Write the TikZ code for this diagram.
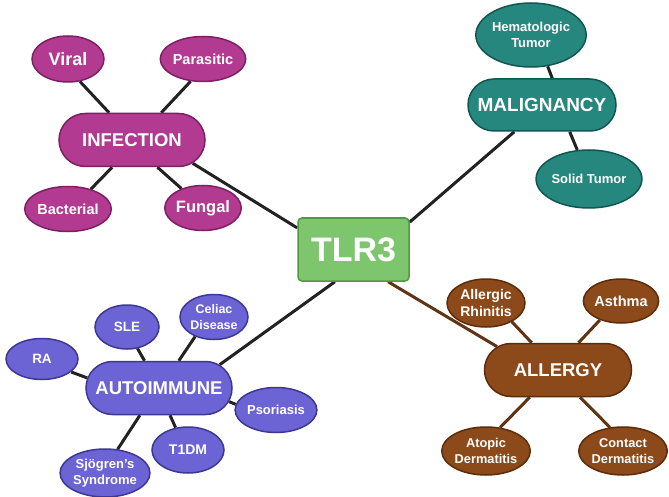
\documentclass[tikz,border=0pt]{standalone}
\usepackage{fontspec}
\setmainfont{Liberation Sans}
\usetikzlibrary{shapes.geometric,shapes.misc,backgrounds}
\definecolor{infc}{HTML}{B23B91}
\definecolor{infd}{HTML}{7D1F63}
\definecolor{malc}{HTML}{26877E}
\definecolor{mald}{HTML}{125650}
\definecolor{tlrc}{HTML}{7DC66D}
\definecolor{tlrd}{HTML}{4E9A40}
\definecolor{autc}{HTML}{6C63D4}
\definecolor{autd}{HTML}{3D3894}
\definecolor{allc}{HTML}{8C4A1B}
\definecolor{alld}{HTML}{5C2C0B}
\definecolor{linkc}{HTML}{222222}
\definecolor{brlink}{HTML}{5E3415}
\newcommand{\fs}[1]{\fontsize{#1}{#1}\selectfont}
\newcommand{\fsb}[2]{\fontsize{#1}{#2}\selectfont}
\begin{document}
\begin{tikzpicture}[x=1pt,y=-1pt,
  base/.style={text=white,font=\bfseries,align=center,inner sep=0pt,line width=1.5pt},
  leaf/.style={base,ellipse},
  hub/.style={base,rounded rectangle,minimum width=146pt,minimum height=53pt},
  infn/.style={fill=infc,draw=infd},
  maln/.style={fill=malc,draw=mald},
  autn/.style={fill=autc,draw=autd},
  alln/.style={fill=allc,draw=alld},
  link/.style={line width=3pt,draw=linkc},
  blink/.style={line width=3pt,draw=brlink}]
\useasboundingbox (0,0) rectangle (669,497);
% TLR3
\node[base,rectangle,rounded corners=4pt,fill=tlrc,draw=tlrd,minimum width=111pt,minimum height=63pt,font=\bfseries\fs{34}] (tlr) at (353.5,249.5) {TLR3};
% Infection
\node[hub,infn,font=\bfseries\fs{18.5}] (inf) at (132,140) {INFECTION};
\node[leaf,infn,minimum width=72pt,minimum height=46pt,font=\bfseries\fs{18}] (vir) at (68,59) {Viral};
\node[leaf,infn,minimum width=72pt,minimum height=45pt,font=\bfseries\fs{14.5}] (par) at (203,59) {Parasitic};
\node[leaf,infn,minimum width=72pt,minimum height=45pt,font=\bfseries\fs{14.5}] (bac) at (68,209) {Bacterial};
\node[leaf,infn,minimum width=72pt,minimum height=45pt,font=\bfseries\fs{16.5}] (fun) at (203,208) {Fungal};
% Malignancy
\node[hub,maln,minimum width=148pt,minimum height=52pt,font=\bfseries\fs{19}] (mal) at (542,105) {MALIGNANCY};
\node[leaf,maln,minimum width=95pt,minimum height=64pt,font=\bfseries\fsb{13}{16}] (hem) at (531,35) {Hematologic\\Tumor};
\node[leaf,maln,minimum width=95pt,minimum height=58pt,font=\bfseries\fs{13}] (sol) at (589,179) {Solid Tumor};
% Autoimmune
\node[hub,autn,font=\bfseries\fs{18.5}] (aut) at (159,388) {AUTOIMMUNE};
\node[leaf,autn,minimum width=64pt,minimum height=44pt,font=\bfseries\fs{13.5}] (sle) at (127,327) {SLE};
\node[leaf,autn,minimum width=68pt,minimum height=45pt,font=\bfseries\fsb{12.5}{15.5}] (cel) at (214,317) {Celiac\\Disease};
\node[leaf,autn,minimum width=72pt,minimum height=41pt,font=\bfseries\fs{13.5}] (ra) at (42,359) {RA};
\node[leaf,autn,minimum width=74pt,minimum height=45pt,font=\bfseries\fs{13}] (pso) at (276,410) {Psoriasis};
\node[leaf,autn,minimum width=72pt,minimum height=46pt,font=\bfseries\fs{14}] (t1d) at (188,450) {T1DM};
\node[leaf,autn,minimum width=70pt,minimum height=48pt,font=\bfseries\fsb{13}{16}] (sjo) at (105,473) {Sjögren's\\Syndrome};
% Allergy
\node[hub,alln,minimum width=147pt,font=\bfseries\fs{18.5}] (all) at (558,370) {ALLERGY};
\node[leaf,alln,minimum width=78pt,minimum height=48pt,font=\bfseries\fsb{14}{16.5}] (arh) at (486,303) {Allergic\\Rhinitis};
\node[leaf,alln,minimum width=73pt,minimum height=44pt,font=\bfseries\fs{14.5}] (ast) at (621,301) {Asthma};
\node[leaf,alln,minimum width=77pt,minimum height=48pt,font=\bfseries\fsb{12.8}{16}] (ato) at (486,451) {Atopic\\Dermatitis};
\node[leaf,alln,minimum width=73pt,minimum height=48pt,font=\bfseries\fsb{12.8}{16}] (con) at (623,451) {Contact\\Dermatitis};
\begin{scope}[on background layer]
\fill[white] (0,0) rectangle (669,497);
\draw[link] (inf.-21) -- (tlr.159);
\draw[link] (vir.-62) -- (inf.130);
\draw[link] (par.-119) -- (inf.43);
\draw[link] (bac.41) -- (inf.-126);
\draw[link] (fun.138) -- (inf.-47);
\draw[link] (tlr.26) -- (mal.-136);
\draw[link] (hem.-62) -- (mal.69);
\draw[link] (sol.112) -- (mal.-44);
\draw[link] (aut.21) -- (tlr.-120);
\draw[link] (sle.-64) -- (aut.118);
\draw[link] (cel.-134) -- (aut.54);
\draw[link] (ra.-24) -- (aut.172);
\draw[link] (pso.172) -- (aut.-11);
\draw[link] (t1d.119) -- (aut.-68);
\draw[link] (sjo.62) -- (aut.-125);
\draw[blink] (tlr.-43) -- (all.159);
\draw[blink] (arh.-36) -- (all.134);
\draw[blink] (ast.-138) -- (all.53);
\draw[blink] (ato.59) -- (all.-136);
\draw[blink] (con.119) -- (all.-51);
\end{scope}
\end{tikzpicture}
\end{document}
